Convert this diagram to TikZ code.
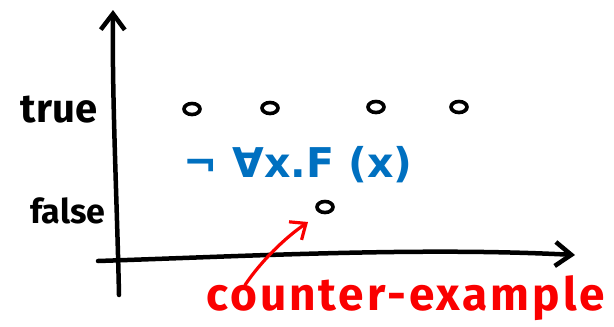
\documentclass[tikz,border=0pt]{standalone}
\usepackage{fontspec}
\setmainfont{Fira Sans}
\newfontfamily\symfont{DejaVu Sans}
\newfontfamily\notefont[LetterSpace=6.5]{Fira Sans}
\usetikzlibrary{arrows.meta,shapes.geometric}
\definecolor{penblue}{RGB}{0,112,192}
\definecolor{penred}{RGB}{250,0,0}
\begin{document}
\begin{tikzpicture}[x=1pt,y=-1pt,
  axis/.style={line width=4.5pt,line cap=round,line join=round,
    -{Straight Barb[length=16pt,width=24pt]}},
  pt/.style={ellipse,draw,line width=3.6pt,minimum width=16pt,minimum height=11pt,inner sep=0pt},
  lbl/.style={inner sep=0pt,font=\bfseries\fontsize{40}{44}\selectfont},
  formula/.style={inner sep=0pt,text=penblue,font=\symfont\bfseries\fontsize{41}{45}\selectfont},
  note/.style={inner sep=0pt,text=penred,font=\notefont\bfseries\fontsize{46}{50}\selectfont},
  pointer/.style={penred,line width=3.2pt,line cap=round,line join=round,
    -{Straight Barb[length=13pt,width=22pt]}}]
\useasboundingbox (0,0) rectangle (614,327);
% axes
\coordinate (vbot) at (119,295);
\coordinate (vtop) at (113,10);
\coordinate (hstart) at (98,261);
\coordinate (hend) at (575,255);
\draw[axis] (vbot) .. controls (117,200) and (112,100) .. (vtop);
\draw[axis] (hstart) .. controls (250,256) and (420,247) .. (hend);
% labels
\node[lbl] (ltrue) at (59,110) {true};
\node[lbl,font=\bfseries\fontsize{34}{38}\selectfont] (lfalse) at (68,211) {false};
% points
\node[pt] (p1) at (192,109) {};
\node[pt] (p2) at (270,108) {};
\node[pt] (p3) at (376,107) {};
\node[pt] (p4) at (459,107) {};
\node[pt] (pf) at (325,207) {};
% formula
\node[formula] (form) at (298,165) {¬ ∀x.F (x)};
% counter-example
\node[note,anchor=base west] (cex) at (206,310) {counter-example};
\coordinate (tail) at (245,285);
\coordinate (head) at (308,222);
\draw[pointer] (tail) .. controls (262,260) and (285,238) .. (head);
\end{tikzpicture}
\end{document}
